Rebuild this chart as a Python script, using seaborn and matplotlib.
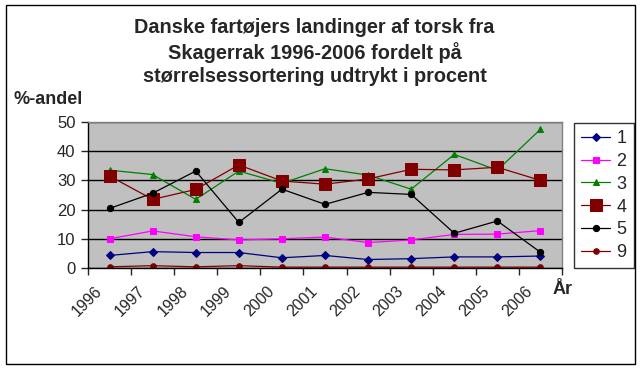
import numpy as np
import pandas as pd
import matplotlib
matplotlib.use("Agg")
import matplotlib.pyplot as plt
import matplotlib.transforms as mtransforms
from matplotlib.patches import Rectangle
import seaborn as sns

# Data (percent share by size grade)
years = ["1996", "1997", "1998", "1999", "2000", "2001",
         "2002", "2003", "2004", "2005", "2006"]
grade_1 = [4.3, 5.6, 5.3, 5.3, 3.5, 4.3, 2.9, 3.2, 3.8, 3.8, 4.1]
grade_2 = [10.0, 12.7, 10.7, 9.6, 10.0, 10.6, 8.7, 9.6, 11.5, 11.6, 12.8]
grade_3 = [33.5, 32.0, 23.5, 33.2, 29.0, 34.0, 31.8, 27.0, 38.9, 33.5, 47.5]
grade_4 = [31.5, 23.5, 26.9, 35.3, 29.8, 28.7, 30.5, 33.8, 33.6, 34.5, 30.0]
grade_5 = [20.4, 25.6, 33.2, 15.6, 27.0, 21.8, 25.9, 25.2, 11.9, 16.1, 5.4]
grade_9 = [0.4, 0.8, 0.4, 0.8, 0.3, 0.3, 0.3, 0.3, 0.3, 0.3, 0.3]

df = pd.DataFrame({"year": years, "1": grade_1, "2": grade_2, "3": grade_3,
                   "4": grade_4, "5": grade_5, "9": grade_9})
df["pos"] = range(len(years))

styles = {
    "1": dict(color="#000080", marker="D", markersize=4.0),
    "2": dict(color="#FF00FF", marker="s", markersize=5.0),
    "3": dict(color="#008000", marker="^", markersize=5.0),
    "4": dict(color="#800000", marker="s", markersize=8.0),
    "5": dict(color="#000000", marker="o", markersize=4.5),
    "9": dict(color="#800000", marker="o", markersize=4.0),
}

sns.set_style("white")
plt.rcParams["font.family"] = ["Liberation Sans", "DejaVu Sans"]

fig = plt.figure(figsize=(6.42, 3.70), dpi=100)
ax = fig.add_axes([88 / 642, 1 - 268 / 370, (562 - 88) / 642, (268 - 122) / 370])
ax.set_facecolor("#C0C0C0")

for name, st in styles.items():
    sns.lineplot(data=df, x="pos", y=name, ax=ax, color=st["color"],
                 marker=st["marker"], markersize=st["markersize"],
                 markeredgecolor=st["color"], linewidth=0.9, label=name)

ax.set_xlim(-0.5, len(years) - 0.5)
ax.set_ylim(0, 50)
ax.set_yticks(range(0, 51, 10))
ax.yaxis.grid(True, color="black", linewidth=1)
ax.set_axisbelow(True)
ax.tick_params(axis="y", length=5, width=1, direction="out", labelsize=12, pad=4, left=True)

ax.set_xticks(np.arange(-0.5, len(years), 1))
ax.set_xticklabels([])
ax.tick_params(axis="x", which="major", length=5, width=1, direction="out", bottom=True)
ax.set_xticks(range(len(years)), minor=True)
ax.set_xticklabels(years, minor=True, rotation=45, ha="right", va="center",
                   rotation_mode="anchor", fontsize=11.5)
ax.tick_params(axis="x", which="minor", length=0, pad=15)
offset = mtransforms.ScaledTranslation(-10 / 100, 0, fig.dpi_scale_trans)
for lab in ax.get_xticklabels(minor=True):
    lab.set_transform(lab.get_transform() + offset)

ax.set_xlabel("")
ax.set_ylabel("")
for side in ["left", "bottom"]:
    ax.spines[side].set_color("black")
    ax.spines[side].set_linewidth(1)
for side in ["top", "right"]:
    ax.spines[side].set_color("#808080")
    ax.spines[side].set_linewidth(1)

leg = ax.legend(loc="upper left", bbox_to_anchor=(574 / 642, 1 - 123 / 370),
                bbox_transform=fig.transFigure, frameon=True, fancybox=False,
                edgecolor="black", fontsize=13, handlelength=1.6,
                labelspacing=0.32, handletextpad=0.35, borderpad=0.4,
                borderaxespad=0)
leg.get_frame().set_linewidth(1)

fig.text(0.49, 1 - 52 / 370,
         "Danske fartøjers landinger af torsk fra\n"
         "Skagerrak 1996-2006 fordelt på\n"
         "størrelsessortering udtrykt i procent",
         ha="center", va="center", fontsize=14.3, fontweight="bold",
         linespacing=1.3)
fig.text(14 / 642, 1 - 100 / 370, "%-andel", ha="left", va="center",
         fontsize=13, fontweight="bold")
fig.text(563 / 642, 1 - 290 / 370, "År", ha="center", va="center",
         fontsize=13, fontweight="bold")

fig.patches.append(Rectangle((6 / 642, 6 / 370), 629 / 642, 359 / 370,
                             transform=fig.transFigure, fill=False,
                             edgecolor="black", linewidth=1))

fig.savefig("out.png", dpi=100)
